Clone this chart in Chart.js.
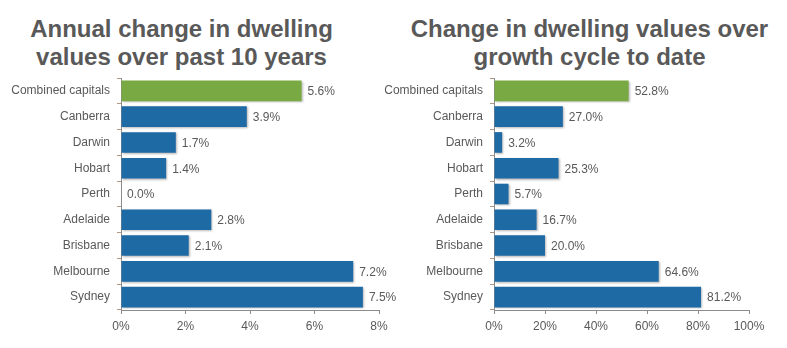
<!DOCTYPE html>
<html>
<head>
<meta charset="utf-8">
<script src="https://cdn.jsdelivr.net/npm/chart.js@4.4.0/dist/chart.umd.min.js"></script>
<style>
  html, body { margin:0; padding:0; background:#fff; }
  body { width:787px; height:348px; position:relative; overflow:hidden; font-family:"Liberation Sans", Arial, sans-serif; }
  .title { position:absolute; top:15px; color:#595959; font-weight:bold; font-size:24px; line-height:28px; text-align:center; white-space:nowrap; }
  .box { position:absolute; top:0; height:348px; }
</style>
</head>
<body>
<div class="title" style="left:0; width:363px;">Annual change in dwelling<br>values over past 10 years</div>
<div class="title" style="left:392px; width:395px;">Change in dwelling values over<br>growth cycle to date</div>
<div class="box" style="left:0; width:400px;"><canvas id="c1" width="400" height="348"></canvas></div>
<div class="box" style="left:375px; width:412px;"><canvas id="c2" width="412" height="348"></canvas></div>
<script>
const categories = ["Combined capitals","Canberra","Darwin","Hobart","Perth","Adelaide","Brisbane","Melbourne","Sydney"];
const annualChange10yr = [5.6, 3.9, 1.7, 1.4, 0.0, 2.8, 2.1, 7.2, 7.5];
const cycleChange = [52.8, 27.0, 3.2, 25.3, 5.7, 16.7, 20.0, 64.6, 81.2];
const leftTicks = [0, 2, 4, 6, 8];
const rightTicks = [0, 20, 40, 60, 80, 100];

const GREEN = '#78a942', BLUE = '#1e6aa5', TEXT = '#595959';
const FONT = '"Liberation Sans", Arial, sans-serif';

const labelPlugin = {
  id: 'vlabels',
  afterDatasetsDraw(chart) {
    const ctx = chart.ctx;
    const meta = chart.getDatasetMeta(0);
    const data = chart.data.datasets[0].data;
    ctx.save();
    ctx.font = '12px ' + FONT;
    ctx.fillStyle = TEXT;
    ctx.textAlign = 'left';
    ctx.textBaseline = 'middle';
    meta.data.forEach((bar, i) => {
      ctx.fillText(data[i].toFixed(1) + '%', bar.x + 6, bar.y + 1);
    });
    ctx.restore();
  }
};
const shadowPlugin = {
  id: 'shadow',
  beforeDatasetsDraw(chart) {
    const ctx = chart.ctx;
    ctx.save();
    ctx.shadowColor = 'rgba(0,0,0,0.28)';
    ctx.shadowBlur = 2;
    ctx.shadowOffsetX = 1;
    ctx.shadowOffsetY = 1;
  },
  afterDatasetsDraw(chart) { chart.ctx.restore(); }
};

function makeChart(id, values, ticks, yWidth, padRight) {
  const max = ticks[ticks.length - 1];
  const step = ticks[1] - ticks[0];
  return new Chart(document.getElementById(id), {
    type: 'bar',
    data: {
      labels: categories,
      datasets: [{
        data: values,
        backgroundColor: c => c.dataIndex === 0 ? GREEN : BLUE,
        barPercentage: 0.8,
        categoryPercentage: 1.0,
        borderWidth: 0
      }]
    },
    options: {
      indexAxis: 'y',
      responsive: false,
      animation: false,
      layout: { padding: { top: 78, right: padRight, left: 0, bottom: 0 } },
      plugins: { legend: { display: false }, tooltip: { enabled: false }, title: { display: false } },
      scales: {
        x: {
          min: 0, max: max,
          afterBuildTicks: s => { s.ticks = ticks.map(v => ({ value: v })); },
          ticks: { stepSize: step, callback: v => v + '%', color: TEXT, font: { family: FONT, size: 12 }, padding: 5 },
          grid: { drawOnChartArea: false, drawTicks: true, tickLength: 4, color: '#8c8c8c' },
          border: { color: '#8c8c8c', width: 1 },
          afterFit: s => { s.height = 38; }
        },
        y: {
          ticks: { color: TEXT, font: { family: FONT, size: 12 }, padding: 7 },
          grid: { drawOnChartArea: false, drawTicks: true, tickLength: 4, offset: true, color: '#b09888' },
          border: { color: '#8c8c8c', width: 1 },
          afterFit: s => { s.width = yWidth; }
        }
      }
    },
    plugins: [shadowPlugin, labelPlugin]
  });
}

makeChart('c1', annualChange10yr, leftTicks, 121, 21);
makeChart('c2', cycleChange, rightTicks, 119, 38);
</script>
</body>
</html>
